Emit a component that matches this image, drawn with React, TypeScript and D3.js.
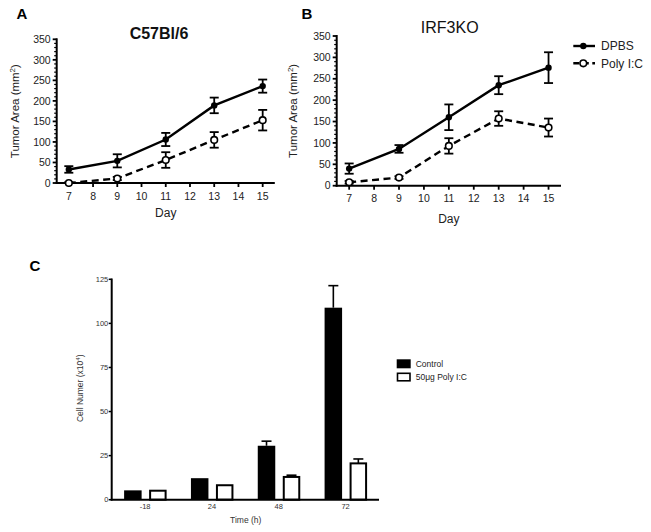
import React from "react";
import * as d3 from "d3";

const days = [7, 9, 11, 13, 15];
const dayTicks = [7, 8, 9, 10, 11, 12, 13, 14, 15];
const areaTicks = [0, 50, 100, 150, 200, 250, 300, 350];

const aDpbs = [33, 54, 106, 189, 236];
const aDpbsErr = [8, 16, 16, 19, 16];
const aPoly = [0, 11, 56, 105, 153];
const aPolyErr = [2, 4, 19, 19, 25];

const bDpbs = [40, 86, 160, 235, 276];
const bDpbsErr = [12, 9, 30, 21, 36];
const bPoly = [8, 19, 93, 157, 136];
const bPolyErr = [3, 3, 18, 17, 21];

const seriesNames = ["DPBS", "Poly I:C"];

const times = ["-18", "24", "48", "72"];
const control = [5.3, 12.2, 30.6, 108.9];
const controlErr = [0, 0.3, 2.6, 12.5];
const polyIC = [5.1, 8.2, 12.9, 20.6];
const polyICErr = [0, 0.3, 1.0, 2.5];
const cellTicks = [0, 25, 50, 75, 100, 125];
const barLegend = ["Control", "50\u03bcg Poly I:C"];

const FONT = "'Liberation Sans', Arial, Helvetica, sans-serif";

type LineProps = {
  x0: number; x1: number; yTop: number; yBottom: number;
  dpbs: number[]; dpbsErr: number[]; poly: number[]; polyErr: number[];
  title: string; titleX: number; titleY: number; titleBold: boolean;
  ylabX: number; dayOffset: number; tickOffset: number;
};

function LinePanel(p: LineProps) {
  const x = d3.scaleLinear().domain([6.5, 15.5]).range([p.x0, p.x1]);
  const y = d3.scaleLinear().domain([0, 350]).range([p.yBottom, p.yTop]);
  const line = d3.line<number>().x((_, i) => x(days[i])).y((d) => y(d));
  const minor = d3.range(0, 351, 10).filter((v) => v % 50 !== 0);
  const err = (vals: number[], errs: number[], key: string) =>
    vals.map((v, i) => {
      const cx = x(days[i]);
      const t = y(v + errs[i]);
      const b = y(Math.max(0, v - errs[i]));
      return (
        <g key={key + i} stroke="#000" strokeWidth={1.8}>
          <line x1={cx} x2={cx} y1={t} y2={b} />
          <line x1={cx - 4.5} x2={cx + 4.5} y1={t} y2={t} />
          <line x1={cx - 4.5} x2={cx + 4.5} y1={b} y2={b} />
        </g>
      );
    });
  return (
    <g fontFamily={FONT}>
      {/* axes */}
      <line x1={p.x0} x2={p.x0} y1={p.yTop - 1} y2={p.yBottom + 1} stroke="#000" strokeWidth={2} />
      <line x1={p.x0 - 1} x2={p.x1} y1={p.yBottom} y2={p.yBottom} stroke="#000" strokeWidth={2} />
      {areaTicks.map((t) => (
        <g key={"yt" + t}>
          <line x1={p.x0 - 4} x2={p.x0} y1={y(t)} y2={y(t)} stroke="#000" strokeWidth={1.8} />
          <text x={p.x0 - 6} y={y(t)} dy="0.35em" textAnchor="end" fontSize={10.5} fill="#222">{t}</text>
        </g>
      ))}
      {minor.map((t) => (
        <line key={"ym" + t} x1={p.x0 - 2.5} x2={p.x0} y1={y(t)} y2={y(t)} stroke="#000" strokeWidth={1.2} />
      ))}
      {dayTicks.map((t) => (
        <g key={"xt" + t}>
          <line x1={x(t)} x2={x(t)} y1={p.yBottom} y2={p.yBottom + 4} stroke="#000" strokeWidth={1.8} />
          <text x={x(t)} y={p.yBottom + p.tickOffset} textAnchor="middle" fontSize={10.5} fill="#222">{t}</text>
        </g>
      ))}
      <text x={(p.x0 + p.x1) / 2} y={p.yBottom + p.dayOffset} textAnchor="middle" fontSize={12} fill="#222">Day</text>
      <text
        transform={`translate(${p.ylabX},${(p.yTop + p.yBottom) / 2}) rotate(-90)`}
        textAnchor="middle" dy="0.35em" fontSize={11.5} fill="#222"
      >
        Tumor Area (mm<tspan fontSize={8} dy={-4}>2</tspan><tspan dy={4}>)</tspan>
      </text>
      <text x={p.titleX} y={p.titleY} textAnchor="middle" fontSize={16} fontWeight={p.titleBold ? "bold" : "normal"} fill="#111">{p.title}</text>
      {/* lines */}
      <path d={line(p.dpbs) || ""} fill="none" stroke="#000" strokeWidth={2.4} />
      <path d={line(p.poly) || ""} fill="none" stroke="#000" strokeWidth={2.4} strokeDasharray="7,4.5" />
      {err(p.dpbs, p.dpbsErr, "de")}
      {err(p.poly, p.polyErr, "pe")}
      {p.dpbs.map((v, i) => (
        <circle key={"dm" + i} cx={x(days[i])} cy={y(v)} r={3.2} fill="#000" />
      ))}
      {p.poly.map((v, i) => (
        <circle key={"pm" + i} cx={x(days[i])} cy={y(v)} r={3.3} fill="#fff" stroke="#000" strokeWidth={1.6} />
      ))}
    </g>
  );
}

function BarPanel() {
  const x = d3.scaleBand<string>().domain(times).range([111.7, 379]);
  const y = d3.scaleLinear().domain([0, 125]).range([499.7, 279.3]);
  const c = (t: string) => (x(t) || 0) + x.bandwidth() / 2;
  const errBar = (t: string, xc: number, v: number, e: number, key: string) =>
    e > 0.5 ? (
      <g key={key} stroke="#000" strokeWidth={1.6}>
        <line x1={xc} x2={xc} y1={y(v)} y2={y(v + e)} />
        <line x1={xc - 5} x2={xc + 5} y1={y(v + e)} y2={y(v + e)} />
      </g>
    ) : null;
  return (
    <g fontFamily={FONT}>
      {times.map((t, i) => (
        <g key={"b" + t}>
          {errBar(t, c(t) - 12.25, control[i], controlErr[i], "ce" + i)}
          {errBar(t, c(t) + 12.75, polyIC[i], polyICErr[i], "pe" + i)}
          <rect x={c(t) - 21} y={y(control[i])} width={17.5} height={y(0) - y(control[i])} fill="#000" />
          <rect x={c(t) + 5} y={y(polyIC[i])} width={15.5} height={y(0) - y(polyIC[i])} fill="#fff" stroke="#000" strokeWidth={2} />
          <text x={c(t)} y={508.5} textAnchor="middle" fontSize={7.5} fill="#333">{t}</text>
        </g>
      ))}
      <line x1={111.7} x2={111.7} y1={278.5} y2={500.5} stroke="#000" strokeWidth={2} />
      <line x1={110.7} x2={379} y1={499.7} y2={499.7} stroke="#000" strokeWidth={2} />
      {cellTicks.map((t) => (
        <g key={"ct" + t}>
          <line x1={108.7} x2={111.7} y1={y(t)} y2={y(t)} stroke="#000" strokeWidth={1.5} />
          <text x={108.3} y={y(t)} dy="0.35em" textAnchor="end" fontSize={7.5} fill="#333">{t}</text>
        </g>
      ))}
      <text x={245.7} y={523.3} textAnchor="middle" fontSize={8.5} fill="#333">Time (h)</text>
      <text transform="translate(80,388.3) rotate(-90)" textAnchor="middle" dy="0.35em" fontSize={8.5} fill="#333">
        Cell Numer (x10<tspan fontSize={6} dy={-3}>4</tspan><tspan dy={3}>)</tspan>
      </text>
      <rect x={396.7} y={359.3} width={14} height={9} fill="#000" />
      <rect x={397.5} y={373.3} width={12.5} height={7.5} fill="#fff" stroke="#000" strokeWidth={1.6} />
      <text x={415.7} y={366.9} fontSize={8.5} fill="#222">{barLegend[0]}</text>
      <text x={415.7} y={380.2} fontSize={8.5} fill="#222">{barLegend[1]}</text>
    </g>
  );
}

export default function App() {
  return (
    <svg width={651} height={532} style={{ position: "absolute", left: 0, top: 0, background: "#fff" }}>
      <rect width={651} height={532} fill="#fff" />
      <text x={22} y={18.5} textAnchor="middle" fontFamily={FONT} fontSize={15} fontWeight="bold">A</text>
      <text x={307} y={18.5} textAnchor="middle" fontFamily={FONT} fontSize={15} fontWeight="bold">B</text>
      <text x={35} y={270.5} textAnchor="middle" fontFamily={FONT} fontSize={15} fontWeight="bold">C</text>
      <LinePanel
        x0={56.7} x1={274.8} yTop={39.3} yBottom={183}
        dpbs={aDpbs} dpbsErr={aDpbsErr} poly={aPoly} polyErr={aPolyErr}
        title="C57Bl/6" titleX={159} titleY={39.3} titleBold={true}
        ylabX={15} dayOffset={34} tickOffset={17}
      />
      <LinePanel
        x0={336.7} x1={561} yTop={36} yBottom={185.7}
        dpbs={bDpbs} dpbsErr={bDpbsErr} poly={bPoly} polyErr={bPolyErr}
        title="IRF3KO" titleX={449.7} titleY={33.3} titleBold={false}
        ylabX={293.3} dayOffset={37} tickOffset={16.5}
      />
      {/* legend for line charts */}
      <g fontFamily={FONT}>
        <line x1={573.3} x2={595} y1={46} y2={46} stroke="#000" strokeWidth={2.4} />
        <circle cx={583.3} cy={46} r={3.2} fill="#000" />
        <text x={601} y={50} fontSize={12} fill="#222">{seriesNames[0]}</text>
        <line x1={573.3} x2={595} y1={63.3} y2={63.3} stroke="#000" strokeWidth={2.4} strokeDasharray="6,3.5" />
        <circle cx={583.3} cy={63.3} r={3.3} fill="#fff" stroke="#000" strokeWidth={1.6} />
        <text x={601} y={67.5} fontSize={12} fill="#222">{seriesNames[1]}</text>
      </g>
      <BarPanel />
    </svg>
  );
}
